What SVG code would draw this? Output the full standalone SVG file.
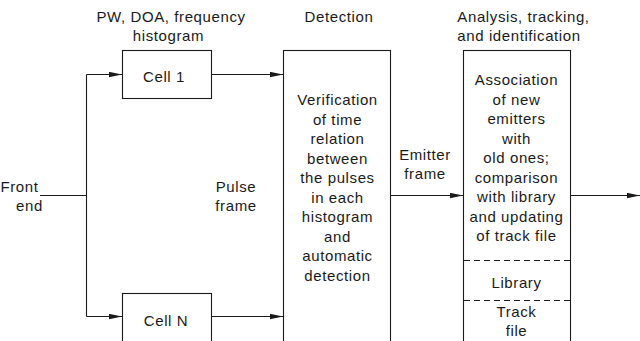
<svg xmlns="http://www.w3.org/2000/svg" width="640" height="341" viewBox="0 0 640 341">
<defs>
<style>
text{font-family:"Liberation Sans",Arial,sans-serif;font-size:15px;letter-spacing:0.6px;fill:#1a1a1a;text-anchor:middle}
.s{text-anchor:start}
.box{fill:#fff;stroke:#1a1a1a;stroke-width:1.1}
.ln{fill:none;stroke:#1a1a1a;stroke-width:1.1}
.dash{fill:none;stroke:#1a1a1a;stroke-width:1.1;stroke-dasharray:6 4}
</style>
<marker id="ah" viewBox="0 0 13 6" refX="13" refY="3" markerWidth="13" markerHeight="6" markerUnits="userSpaceOnUse" orient="auto">
<path d="M0,0.3 L13,3 L0,5.7 Z" fill="#1a1a1a"/>
</marker>
</defs>
<g id="labels">
<text x="171" y="22">PW, DOA, frequency</text>
<text x="168.5" y="41">histogram</text>
<text x="339" y="22">Detection</text>
<text x="523.5" y="22">Analysis, tracking,</text>
<text x="519" y="41">and identification</text>
<text class="s" x="0.5" y="192">Front</text>
<text class="s" x="16" y="211">end</text>
<text x="236" y="192">Pulse</text>
<text x="236" y="211">frame</text>
<text x="425" y="159.5">Emitter</text>
<text x="425" y="178.5">frame</text>
</g>
<g id="connectors">
<path class="ln" d="M40,195.5 H86.5"/>
<path class="ln" d="M86.5,74.5 V316.5"/>
<path class="ln" d="M86.5,74.5 H122" marker-end="url(#ah)"/>
<path class="ln" d="M86.5,316.5 H122" marker-end="url(#ah)"/>
<path class="ln" d="M211.5,74.5 H283" marker-end="url(#ah)"/>
<path class="ln" d="M211.5,316.5 H283" marker-end="url(#ah)"/>
<path class="ln" d="M390.5,195.5 H463" marker-end="url(#ah)"/>
<path class="ln" d="M570.5,195.5 H640" marker-end="url(#ah)"/>
</g>
<g id="cell1">
<rect class="box" x="122.5" y="50.5" width="89" height="48"/>
<text x="164" y="82">Cell 1</text>
</g>
<g id="cellN">
<rect class="box" x="122.5" y="293.5" width="89" height="60"/>
<text x="166" y="325.5">Cell N</text>
</g>
<g id="detection">
<rect class="box" x="283.5" y="50.5" width="107" height="303"/>
<text x="337.5" y="105">Verification</text>
<text x="337.5" y="124.5">of time</text>
<text x="337.5" y="144">relation</text>
<text x="337.5" y="163.5">between</text>
<text x="337.5" y="183">the pulses</text>
<text x="337.5" y="202.5">in each</text>
<text x="337.5" y="222">histogram</text>
<text x="337.5" y="241.5">and</text>
<text x="337.5" y="261">automatic</text>
<text x="337.5" y="280.5">detection</text>
</g>
<g id="analysis">
<rect class="box" x="463.5" y="50.5" width="107" height="303"/>
<text x="516.5" y="85">Association</text>
<text x="516.5" y="104.5">of new</text>
<text x="516.5" y="124">emitters</text>
<text x="516.5" y="143.5">with</text>
<text x="516.5" y="163">old ones;</text>
<text x="516.5" y="182.5">comparison</text>
<text x="516.5" y="202">with library</text>
<text x="516.5" y="221.5">and updating</text>
<text x="516.5" y="241">of track file</text>
<path class="dash" d="M464,260.5 H570"/>
<text x="516.5" y="288">Library</text>
<path class="dash" d="M464,300.5 H570"/>
<text x="516.5" y="317">Track</text>
<text x="516.5" y="336">file</text>
</g>
</svg>
